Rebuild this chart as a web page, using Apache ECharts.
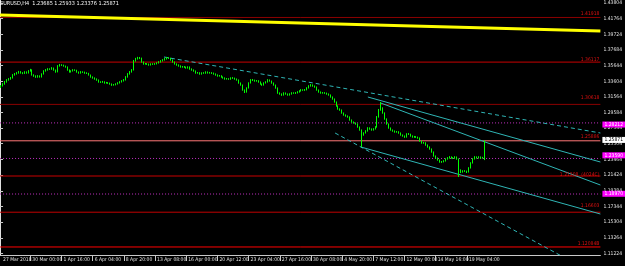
<!DOCTYPE html>
<html>
<head>
<meta charset="utf-8">
<script src="https://cdn.jsdelivr.net/npm/echarts@6/dist/echarts.min.js"></script>
<style>
html, body { margin: 0; padding: 0; background: #000; }
#chart { width: 625px; height: 266px; }
</style>
</head>
<body>
<div id="chart"></div>
<script>
// EURUSD H4 bars
const opens = [1.3288,1.3301,1.3327,1.3353,1.3379,1.3392,1.3405,1.3444,1.3457,1.3470,1.3483,1.3470,1.3466,1.3483,1.3470,1.3496,1.3509,1.3444,1.3431,1.3418,
1.3431,1.3418,1.3457,1.3496,1.3509,1.3522,1.3519,1.3535,1.3509,1.3483,1.3561,1.3574,1.3571,1.3561,1.3548,1.3509,1.3483,1.3496,1.3509,1.3505,
1.3483,1.3470,1.3483,1.3480,1.3470,1.3466,1.3444,1.3418,1.3405,1.3392,1.3379,1.3353,1.3350,1.3356,1.3340,1.3343,1.3338,1.3327,1.3314,1.3317,
1.3327,1.3340,1.3353,1.3366,1.3379,1.3418,1.3457,1.3483,1.3509,1.3626,1.3652,1.3665,1.3662,1.3613,1.3587,1.3590,1.3585,1.3574,1.3587,1.3584,
1.3589,1.3600,1.3613,1.3626,1.3639,1.3652,1.3665,1.3661,1.3639,1.3613,1.3587,1.3574,1.3561,1.3548,1.3551,1.3546,1.3535,1.3548,1.3522,1.3509,
1.3496,1.3470,1.3473,1.3457,1.3470,1.3468,1.3483,1.3470,1.3473,1.3468,1.3457,1.3444,1.3431,1.3434,1.3418,1.3405,1.3392,1.3395,1.3390,1.3405,
1.3402,1.3392,1.3379,1.3340,1.3314,1.3249,1.3223,1.3275,1.3340,1.3379,1.3376,1.3366,1.3369,1.3353,1.3327,1.3314,1.3340,1.3353,1.3379,1.3366,
1.3340,1.3314,1.3275,1.3210,1.3197,1.3184,1.3210,1.3197,1.3184,1.3197,1.3210,1.3207,1.3212,1.3223,1.3236,1.3249,1.3246,1.3251,1.3275,1.3301,
1.3314,1.3301,1.3288,1.3249,1.3223,1.3210,1.3213,1.3208,1.3197,1.3184,1.3158,1.3132,1.3093,1.3041,1.3002,1.2989,1.2950,1.2924,1.2911,1.2898,
1.2859,1.2833,1.2820,1.2807,1.2768,1.2729,1.2664,1.2690,1.2716,1.2755,1.2742,1.2729,1.2742,1.2768,1.2898,1.2989,1.3015,1.2950,1.2872,1.2807,
1.2755,1.2729,1.2716,1.2703,1.2706,1.2690,1.2664,1.2651,1.2638,1.2677,1.2674,1.2651,1.2638,1.2641,1.2636,1.2625,1.2586,1.2560,1.2563,1.2534,
1.2508,1.2482,1.2443,1.2391,1.2365,1.2339,1.2313,1.2316,1.2326,1.2352,1.2365,1.2378,1.2365,1.2362,1.2378,1.2352,1.2209,1.2183,1.2196,1.2193,
1.2183,1.2235,1.2300,1.2352,1.2378,1.2365,1.2378,1.2365,1.23685];
const closes = [1.3301,1.3327,1.3353,1.3379,1.3392,1.3405,1.3444,1.3457,1.3470,1.3483,1.3470,1.3466,1.3483,1.3470,1.3496,1.3509,1.3444,1.3431,1.3418,1.3431,
1.3418,1.3457,1.3496,1.3509,1.3522,1.3519,1.3535,1.3509,1.3483,1.3561,1.3574,1.3571,1.3561,1.3548,1.3509,1.3483,1.3496,1.3509,1.3505,1.3483,
1.3470,1.3483,1.3480,1.3470,1.3466,1.3444,1.3418,1.3405,1.3392,1.3379,1.3353,1.3350,1.3356,1.3340,1.3343,1.3338,1.3327,1.3314,1.3317,1.3327,
1.3340,1.3353,1.3366,1.3379,1.3418,1.3457,1.3483,1.3509,1.3626,1.3652,1.3665,1.3662,1.3613,1.3587,1.3590,1.3585,1.3574,1.3587,1.3584,1.3589,
1.3600,1.3613,1.3626,1.3639,1.3652,1.3665,1.3661,1.3639,1.3613,1.3587,1.3574,1.3561,1.3548,1.3551,1.3546,1.3535,1.3548,1.3522,1.3509,1.3496,
1.3470,1.3473,1.3457,1.3470,1.3468,1.3483,1.3470,1.3473,1.3468,1.3457,1.3444,1.3431,1.3434,1.3418,1.3405,1.3392,1.3395,1.3390,1.3405,1.3402,
1.3392,1.3379,1.3340,1.3314,1.3249,1.3223,1.3275,1.3340,1.3379,1.3376,1.3366,1.3369,1.3353,1.3327,1.3314,1.3340,1.3353,1.3379,1.3366,1.3340,
1.3314,1.3275,1.3210,1.3197,1.3184,1.3210,1.3197,1.3184,1.3197,1.3210,1.3207,1.3212,1.3223,1.3236,1.3249,1.3246,1.3251,1.3275,1.3301,1.3314,
1.3301,1.3288,1.3249,1.3223,1.3210,1.3213,1.3208,1.3197,1.3184,1.3158,1.3132,1.3093,1.3041,1.3002,1.2989,1.2950,1.2924,1.2911,1.2898,1.2859,
1.2833,1.2820,1.2807,1.2768,1.2729,1.2664,1.2690,1.2716,1.2755,1.2742,1.2729,1.2742,1.2768,1.2898,1.2989,1.3015,1.2950,1.2872,1.2807,1.2755,
1.2729,1.2716,1.2703,1.2706,1.2690,1.2664,1.2651,1.2638,1.2677,1.2674,1.2651,1.2638,1.2641,1.2636,1.2625,1.2586,1.2560,1.2563,1.2534,1.2508,
1.2482,1.2443,1.2391,1.2365,1.2339,1.2313,1.2316,1.2326,1.2352,1.2365,1.2378,1.2365,1.2362,1.2378,1.2352,1.2209,1.2183,1.2196,1.2193,1.2183,
1.2235,1.2300,1.2352,1.2378,1.2365,1.2378,1.2365,1.23685,1.25871];
const highs = [1.3312,1.3338,1.3366,1.3390,1.3404,1.3418,1.3455,1.3470,1.3482,1.3497,1.3494,1.3481,1.3493,1.3491,1.3507,1.3524,1.3517,1.3453,1.3440,1.3442,
1.3439,1.3466,1.3506,1.3521,1.3533,1.3531,1.3546,1.3541,1.3515,1.3572,1.3588,1.3584,1.3579,1.3567,1.3555,1.3516,1.3505,1.3520,1.3518,1.3512,
1.3490,1.3494,1.3492,1.3488,1.3479,1.3472,1.3450,1.3426,1.3413,1.3400,1.3386,1.3363,1.3367,1.3362,1.3354,1.3351,1.3345,1.3334,1.3327,1.3336,
1.3350,1.3364,1.3377,1.3391,1.3429,1.3468,1.3495,1.3520,1.3640,1.3667,1.3680,1.3678,1.3670,1.3620,1.3600,1.3598,1.3593,1.3596,1.3597,1.3599,
1.3610,1.3624,1.3637,1.3650,1.3664,1.3679,1.3676,1.3669,1.3646,1.3620,1.3595,1.3582,1.3569,1.3561,1.3560,1.3553,1.3557,1.3555,1.3530,1.3517,
1.3503,1.3483,1.3480,1.3479,1.3481,1.3492,1.3490,1.3484,1.3481,1.3476,1.3465,1.3452,1.3444,1.3441,1.3425,1.3413,1.3405,1.3403,1.3414,1.3417,
1.3410,1.3399,1.3386,1.3347,1.3320,1.3256,1.3284,1.3349,1.3390,1.3392,1.3384,1.3379,1.3376,1.3360,1.3334,1.3349,1.3363,1.3390,1.3386,1.3372,
1.3347,1.3320,1.3282,1.3218,1.3205,1.3219,1.3217,1.3204,1.3206,1.3220,1.3219,1.3222,1.3233,1.3246,1.3260,1.3258,1.3262,1.3285,1.3311,1.3326,
1.3322,1.3308,1.3295,1.3256,1.3230,1.3223,1.3221,1.3215,1.3204,1.3191,1.3165,1.3139,1.3100,1.3049,1.3010,1.2996,1.2957,1.2932,1.2918,1.2905,
1.2866,1.2840,1.2827,1.2814,1.2775,1.2736,1.2699,1.2726,1.2765,1.2763,1.2750,1.2752,1.2779,1.2910,1.3002,1.3093,1.3024,1.2958,1.2880,1.2814,
1.2762,1.2736,1.2723,1.2716,1.2713,1.2697,1.2671,1.2658,1.2687,1.2689,1.2681,1.2659,1.2652,1.2649,1.2643,1.2632,1.2593,1.2573,1.2570,1.2541,
1.2515,1.2489,1.2450,1.2398,1.2372,1.2346,1.2326,1.2336,1.2362,1.2376,1.2389,1.2386,1.2375,1.2388,1.2385,1.2360,1.2217,1.2206,1.2207,1.2201,
1.2245,1.2310,1.2363,1.2389,1.2386,1.2388,1.2385,1.2380,1.25933];
const lows = [1.3276,1.3294,1.3318,1.3345,1.3370,1.3383,1.3398,1.3436,1.3449,1.3461,1.3462,1.3455,1.3458,1.3461,1.3463,1.3488,1.3436,1.3420,1.3407,1.3409,
1.3410,1.3411,1.3450,1.3488,1.3501,1.3510,1.3512,1.3500,1.3474,1.3478,1.3553,1.3562,1.3552,1.3539,1.3500,1.3475,1.3476,1.3489,1.3497,1.3474,
1.3461,1.3462,1.3471,1.3460,1.3457,1.3436,1.3409,1.3396,1.3383,1.3369,1.3344,1.3341,1.3342,1.3331,1.3332,1.3329,1.3318,1.3303,1.3305,1.3309,
1.3320,1.3333,1.3346,1.3359,1.3372,1.3410,1.3449,1.3475,1.3502,1.3618,1.3645,1.3651,1.3604,1.3578,1.3579,1.3576,1.3565,1.3567,1.3575,1.3576,
1.3581,1.3593,1.3605,1.3619,1.3631,1.3645,1.3652,1.3630,1.3604,1.3579,1.3565,1.3552,1.3539,1.3539,1.3537,1.3526,1.3527,1.3513,1.3500,1.3487,
1.3461,1.3461,1.3448,1.3449,1.3459,1.3460,1.3462,1.3462,1.3458,1.3448,1.3435,1.3422,1.3423,1.3409,1.3396,1.3383,1.3384,1.3381,1.3382,1.3393,
1.3383,1.3370,1.3331,1.3305,1.3240,1.3210,1.3215,1.3268,1.3333,1.3366,1.3357,1.3357,1.3344,1.3318,1.3304,1.3306,1.3333,1.3346,1.3358,1.3331,
1.3305,1.3266,1.3200,1.3188,1.3173,1.3176,1.3188,1.3175,1.3176,1.3189,1.3199,1.3198,1.3204,1.3215,1.3228,1.3238,1.3237,1.3244,1.3268,1.3293,
1.3292,1.3279,1.3240,1.3214,1.3201,1.3201,1.3199,1.3188,1.3175,1.3149,1.3123,1.3084,1.3032,1.2993,1.2979,1.2941,1.2915,1.2902,1.2889,1.2850,
1.2824,1.2811,1.2798,1.2759,1.2720,1.2508,1.2655,1.2683,1.2708,1.2733,1.2720,1.2721,1.2735,1.2760,1.2890,1.2980,1.2941,1.2863,1.2798,1.2746,
1.2720,1.2707,1.2694,1.2694,1.2681,1.2655,1.2642,1.2627,1.2630,1.2665,1.2642,1.2629,1.2628,1.2627,1.2616,1.2577,1.2551,1.2550,1.2525,1.2499,
1.2473,1.2434,1.2382,1.2356,1.2330,1.2304,1.2302,1.2308,1.2319,1.2344,1.2357,1.2356,1.2352,1.2354,1.2343,1.2118,1.2170,1.2175,1.2184,1.2170,
1.2176,1.2228,1.2293,1.2345,1.2356,1.2357,1.2356,1.2356,1.23376];

// time scale: one label every 16 bars
const timeLabels = ['27 Mar 2018','30 Mar 00:00','1 Apr 16:00','6 Apr 04:00','8 Apr 20:00','13 Apr 08:00','16 Apr 00:00','20 Apr 12:00',
  '23 Apr 04:00','27 Apr 16:00','30 Apr 08:00','4 May 20:00','7 May 12:00','12 May 00:00','14 May 16:00','19 May 04:00'];
const labelBars = [0,15,31,47,63,79,95,111,127,143,159,175,191,207,223,239];
const slots = 308;

const priceTicks = ['1.43804','1.41764','1.39724','1.37684','1.35644','1.33604','1.31564','1.29584','1.27544',
  '1.25504','1.23464','1.21424','1.19384','1.17344','1.15304','1.13264','1.11224'];

// horizontal levels and their captions
const levelPrices = [1.41918, 1.36117, 1.30618, 1.25886, 1.21308, 1.16603, 1.12084];
const levelTexts = ['1.41918', '1.36117', '1.30618', '1.25886', '1.21308  (4024C)', '1.16603', '1.12084B'];
const dottedLevels = [1.28212, 1.23590, 1.18970];
const lastPrice = 1.25871;

// trend lines: [bar position, price]
const yellowLine = [[0, 1.4224], [308, 1.4016]];
const trendDashed = [[84.1, 1.3678], [308, 1.2690]];
const trendUpper = [[188.7, 1.3158], [308, 1.2313]];
const trendMid = [[195.3, 1.3080], [308, 1.2014]];
const trendLower = [[185.1, 1.2508], [308, 1.1637]];
const trendSteep = [[171.9, 1.2690], [308, 1.0816]];

const header = 'EURUSD,H4  1.23685 1.25933 1.23376 1.25871';

const FONT = "'Liberation Sans Narrow', 'DejaVu Sans Condensed', 'Liberation Sans', sans-serif";
const levelColors = ['#8a0000', '#c80000', '#8a0000', '#ff7878', '#c80000', '#c00000', '#ff0000'];
const HIDDEN = { color: 'rgba(0,0,0,0)', width: 0 };

let categories = [];
for (let i = 0; i < slots; i++) {
    let k = labelBars.indexOf(i);
    categories.push(k >= 0 ? timeLabels[k] : '');
}
let candles = opens.map((o, i) => [o, closes[i], lows[i], highs[i]]);

// a level: a plain horizontal line series plus an invisible markLine that carries the caption
function level(v, text, color) {
    return {
        type: 'line', xAxisIndex: 1, data: [[0, v], [slots, v]], symbol: 'none', silent: true, animation: false,
        lineStyle: { color: color, width: 1, type: 'solid' }, z: 2,
        markLine: {
            symbol: 'none', silent: true, animation: false,
            lineStyle: HIDDEN,
            data: [{ yAxis: v, label: { show: true, position: 'insideEndTop', formatter: text, color: '#e01010', fontSize: 5, fontFamily: FONT, distance: 1 } }]
        }
    };
}
function dotted(v) {
    return {
        type: 'line', xAxisIndex: 1, data: [[0, v], [slots, v]], symbol: 'none', silent: true, animation: false,
        lineStyle: { color: '#c030c0', width: 1, type: [1, 2] }, z: 2,
        markLine: {
            symbol: 'none', silent: true, animation: false,
            lineStyle: HIDDEN,
            data: [{ yAxis: v, label: { show: true, position: 'end', formatter: v.toFixed(5), color: '#fff', backgroundColor: '#ff00ff', fontSize: 5, fontFamily: FONT, padding: [1, 3, 0, 2], distance: 2 } }]
        }
    };
}
function trend(data, color, width, type) {
    return {
        type: 'line', xAxisIndex: 1, data: data, symbol: 'none', silent: true, animation: false,
        lineStyle: { color: color, width: width, type: type }, z: 3
    };
}

let series = [];
levelPrices.forEach((v, i) => series.push(level(v, levelTexts[i], levelColors[i])));
dottedLevels.forEach(v => series.push(dotted(v)));
series.push({
    type: 'line', data: [], silent: true, animation: false, z: 5,
    markLine: {
        symbol: 'none', silent: true, animation: false, lineStyle: HIDDEN,
        data: [{ yAxis: lastPrice, label: { show: true, position: 'end', formatter: lastPrice.toFixed(5), color: '#000', backgroundColor: '#fff', fontSize: 5, fontFamily: FONT, padding: [1, 3, 0, 2], distance: 2 } }]
    }
});
series.push({
    type: 'candlestick',
    data: candles,
    barWidth: 1,
    silent: true,
    z: 4,
    itemStyle: {
        color: '#000', color0: '#ffffff',
        borderColor: '#00ff00', borderColor0: '#00ff00', borderWidth: 1
    }
});
series.push(trend(yellowLine, '#ffff00', 3, 'solid'));
series.push(trend(trendDashed, '#2fb5b5', 1, [4, 3]));
series.push(trend(trendUpper, '#2fb5b5', 1, 'solid'));
series.push(trend(trendMid, '#2fb5b5', 1, 'solid'));
series.push(trend(trendLower, '#2fb5b5', 1, 'solid'));
series.push(trend(trendSteep, '#2fb5b5', 1, [4, 3]));

let chart = echarts.init(document.getElementById('chart'), null, { renderer: 'canvas' });
chart.setOption({
    backgroundColor: '#000',
    animation: false,
    title: {
        text: header, left: 0, top: 1, padding: 0,
        textStyle: { color: '#fff', fontSize: 5.5, fontWeight: 'normal', fontFamily: FONT }
    },
    grid: { left: 0, top: 0, right: 21, bottom: 11 },
    xAxis: [{
        type: 'category',
        data: categories,
        boundaryGap: true,
        axisLine: { lineStyle: { color: '#c8c8c8', width: 1 } },
        axisTick: {
            show: true, alignWithLabel: true, length: 6,
            interval: (idx) => idx > 0 && labelBars.indexOf(idx) >= 0,
            lineStyle: { color: '#c8c8c8' }
        },
        axisLabel: {
            interval: 0, color: '#e0e0e0', fontSize: 5, fontFamily: FONT, align: 'left',
            margin: 2, padding: [0, 0, 0, 2], hideOverlap: false
        },
        splitLine: { show: false }
    }, {
        type: 'value', min: 0, max: slots, show: false, splitLine: { show: false }
    }],
    yAxis: {
        type: 'value',
        position: 'right',
        min: 1.1104, max: 1.4419,
        axisLine: { show: true, lineStyle: { color: '#e0e0e0', width: 1 } },
        axisTick: { show: true, length: 3, customValues: priceTicks.map(Number), lineStyle: { color: '#c8c8c8' } },
        axisLabel: {
            customValues: priceTicks.map(Number),
            formatter: (v) => priceTicks[priceTicks.map(Number).indexOf(v)] || v.toFixed(5),
            color: '#e0e0e0', fontSize: 5, fontFamily: FONT, margin: 3
        },
        splitLine: { show: false }
    },
    series: series
});
window.addEventListener('resize', () => { chart.resize() });
</script>
</body>
</html>
